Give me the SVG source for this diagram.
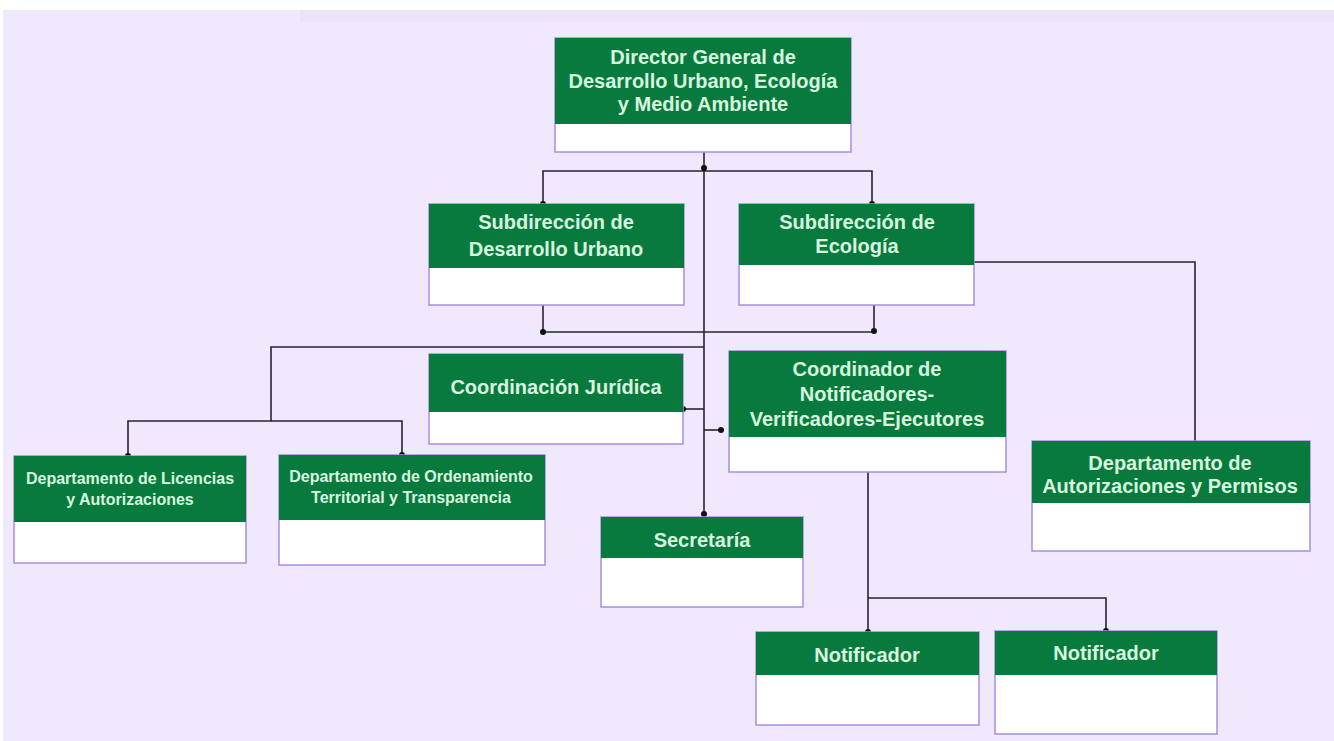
<svg xmlns="http://www.w3.org/2000/svg" width="1334" height="741" viewBox="0 0 1334 741">
<defs>
<style>
.g{fill:#087a3e}
.w{fill:#ffffff;stroke:#a88fdc;stroke-width:1.5}
.t{fill:#d8f6df;font-family:"Liberation Sans",Arial,sans-serif;font-weight:700;font-size:20px;text-anchor:middle}
.s{font-size:16px}
.c{fill:none;stroke:#2a2430;stroke-width:1.6}
.d{fill:#111}
</style>
</defs>
<rect x="0" y="0" width="1334" height="741" fill="#ffffff"/>
<rect x="3" y="10" width="1331" height="731" fill="#f0e8fd"/>
<rect x="300" y="10" width="1034" height="12" fill="#e6def2" opacity="0.5"/>

<g id="connectors">
<path class="c" d="M704 152 V514"/>
<path class="c" d="M543 204 V171 H872 V204"/>
<path class="c" d="M543 305 V332 H874 V305"/>
<path class="c" d="M704 347 H271 V421 H128 V456"/>
<path class="c" d="M271 421 H402 V455"/>
<path class="c" d="M683 409 H704"/>
<path class="c" d="M704 430 H721"/>
<path class="c" d="M974 262 H1195 V441"/>
<path class="c" d="M868 472 V632"/>
<path class="c" d="M868 598 H1106 V631"/>
<circle class="d" cx="704" cy="168" r="3"/>
<circle class="d" cx="543" cy="204" r="3"/>
<circle class="d" cx="872" cy="204" r="3"/>
<circle class="d" cx="543" cy="332" r="3"/>
<circle class="d" cx="874" cy="331" r="3"/>
<circle class="d" cx="128" cy="456" r="3"/>
<circle class="d" cx="402" cy="455" r="3"/>
<circle class="d" cx="683" cy="409" r="3"/>
<circle class="d" cx="721" cy="430" r="3"/>
<circle class="d" cx="704" cy="514" r="3"/>
<circle class="d" cx="868" cy="632" r="3"/>
<circle class="d" cx="1106" cy="631" r="3"/>
</g>

<g id="director">
<rect class="w" x="555" y="38" width="296" height="114"/>
<rect class="g" x="555" y="38" width="296" height="86"/>
<text class="t" x="703" y="64">Director General de</text>
<text class="t" x="703" y="88">Desarrollo Urbano, Ecología</text>
<text class="t" x="703" y="111">y Medio Ambiente</text>
</g>

<g id="sub-desarrollo">
<rect class="w" x="429" y="204" width="255" height="101"/>
<rect class="g" x="429" y="204" width="255" height="64"/>
<text class="t" x="556" y="229">Subdirección de</text>
<text class="t" x="556" y="256">Desarrollo Urbano</text>
</g>

<g id="sub-ecologia">
<rect class="w" x="739" y="204" width="235" height="101"/>
<rect class="g" x="739" y="204" width="235" height="61"/>
<text class="t" x="857" y="229">Subdirección de</text>
<text class="t" x="857" y="253">Ecología</text>
</g>

<g id="coord-juridica">
<rect class="w" x="429" y="354" width="254" height="90"/>
<rect class="g" x="429" y="354" width="254" height="58"/>
<text class="t" x="556" y="394">Coordinación Jurídica</text>
</g>

<g id="coordinador">
<rect class="w" x="729" y="351" width="277" height="121"/>
<rect class="g" x="729" y="351" width="277" height="86"/>
<text class="t" x="867" y="376">Coordinador de</text>
<text class="t" x="867" y="401">Notificadores-</text>
<text class="t" x="867" y="426">Verificadores-Ejecutores</text>
</g>

<g id="dep-licencias">
<rect class="w" x="14" y="456" width="232" height="107"/>
<rect class="g" x="14" y="456" width="232" height="66"/>
<text class="t s" x="130" y="484">Departamento de Licencias</text>
<text class="t s" x="130" y="505">y Autorizaciones</text>
</g>

<g id="dep-ordenamiento">
<rect class="w" x="279" y="455" width="266" height="110"/>
<rect class="g" x="279" y="455" width="266" height="65"/>
<text class="t s" x="411" y="482">Departamento de Ordenamiento</text>
<text class="t s" x="411" y="503">Territorial y Transparencia</text>
</g>

<g id="secretaria">
<rect class="w" x="601" y="517" width="202" height="90"/>
<rect class="g" x="601" y="517" width="202" height="41"/>
<text class="t" x="702" y="547">Secretaría</text>
</g>

<g id="dep-autorizaciones">
<rect class="w" x="1032" y="441" width="278" height="110"/>
<rect class="g" x="1032" y="441" width="278" height="62"/>
<text class="t" x="1170" y="470">Departamento de</text>
<text class="t" x="1170" y="493">Autorizaciones y Permisos</text>
</g>

<g id="notificador-1">
<rect class="w" x="756" y="632" width="223" height="93"/>
<rect class="g" x="756" y="632" width="223" height="43"/>
<text class="t" x="867" y="662">Notificador</text>
</g>

<g id="notificador-2">
<rect class="w" x="995" y="631" width="222" height="103"/>
<rect class="g" x="995" y="631" width="222" height="44"/>
<text class="t" x="1106" y="660">Notificador</text>
</g>
</svg>
